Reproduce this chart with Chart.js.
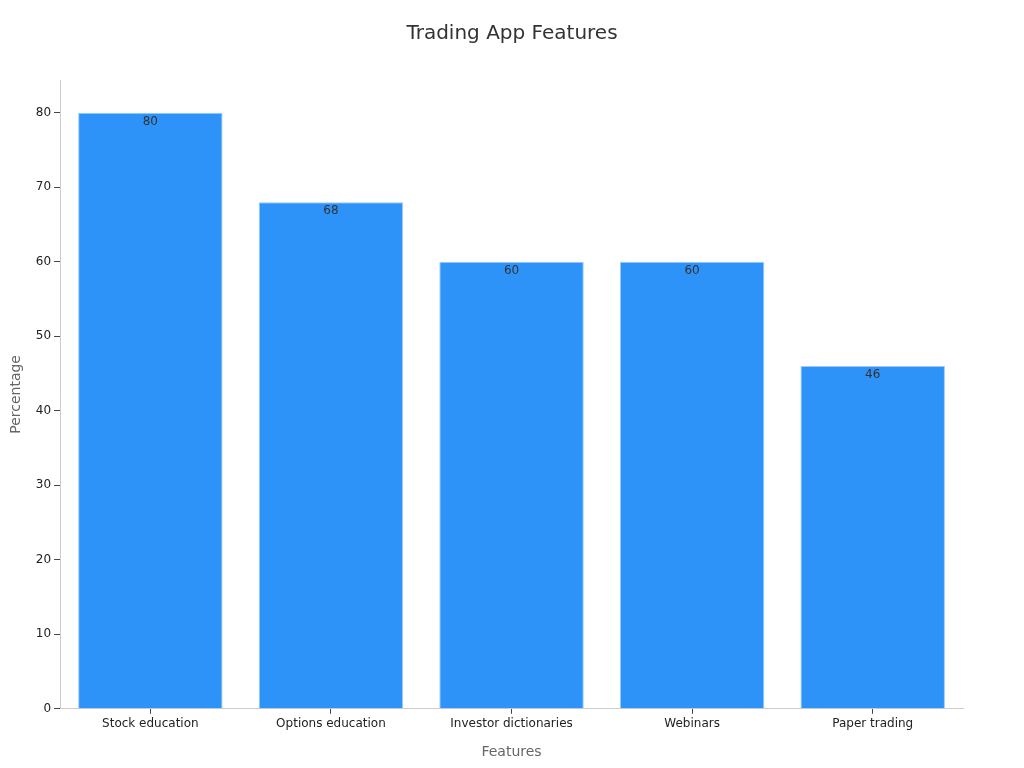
<!DOCTYPE html>
<html>
<head>
<meta charset="utf-8">
<script src="https://cdn.jsdelivr.net/npm/chart.js@4.4.1/dist/chart.umd.min.js"></script>
<style>
  html,body{margin:0;padding:0;background:#fff}
  #wrap{width:1024px;height:768px}
</style>
</head>
<body>
<div id="wrap"><canvas id="c" width="1024" height="768"></canvas></div>
<script>
const categories = ['Stock education','Options education','Investor dictionaries','Webinars','Paper trading']
const values = [80,68,60,60,46]
const yTicks = [0,10,20,30,40,50,60,70,80]
const chartTitle = 'Trading App Features'

// value labels just inside the bar top, title centred on the page
const barLabels = {
  id:'barLabels',
  afterDatasetsDraw(chart){
    const ctx = chart.ctx
    const meta = chart.getDatasetMeta(0)
    ctx.save()
    ctx.font = '12px "DejaVu Sans"'
    ctx.fillStyle = '#333'
    ctx.textAlign = 'center'
    ctx.textBaseline = 'middle'
    meta.data.forEach((bar,i)=>{
      ctx.fillText(String(values[i]), bar.x, bar.y + 9)
    })
    ctx.font = '20px "DejaVu Sans"'
    ctx.fillText(chartTitle, chart.width/2, 34)
    ctx.restore()
  }
}

new Chart(document.getElementById('c'),{
  type:'bar',
  data:{
    labels:categories,
    datasets:[{
      data:values,
      backgroundColor:'#2e93f8',
      borderColor:'#9ccbf9',
      borderWidth:1,
      barPercentage:1,
      categoryPercentage:0.8
    }]
  },
  options:{
    responsive:false,
    animation:false,
    layout:{padding:{left:4,right:61,top:80,bottom:3}},
    plugins:{
      legend:{display:false},
      tooltip:{enabled:false},
      title:{display:false}
    },
    scales:{
      x:{
        grid:{offset:false,drawOnChartArea:false,drawTicks:true,tickLength:5,color:'#444'},
        border:{color:'#ccc'},
        ticks:{color:'#222',font:{family:'"DejaVu Sans"',size:12},padding:3},
        title:{display:true,text:'Features',color:'#666',font:{family:'"DejaVu Sans"',size:14},padding:{top:10}}
      },
      y:{
        min:0,max:84.4,
        afterBuildTicks(axis){ axis.ticks = yTicks.map(v=>({value:v})) },
        grid:{drawOnChartArea:false,drawTicks:true,tickLength:6,color:'#444'},
        border:{color:'#ccc'},
        ticks:{color:'#222',font:{family:'"DejaVu Sans"',size:12},padding:3},
        title:{display:true,text:'Percentage',color:'#666',font:{family:'"DejaVu Sans"',size:14},padding:{bottom:8}}
      }
    }
  },
  plugins:[barLabels]
})
</script>
</body>
</html>
